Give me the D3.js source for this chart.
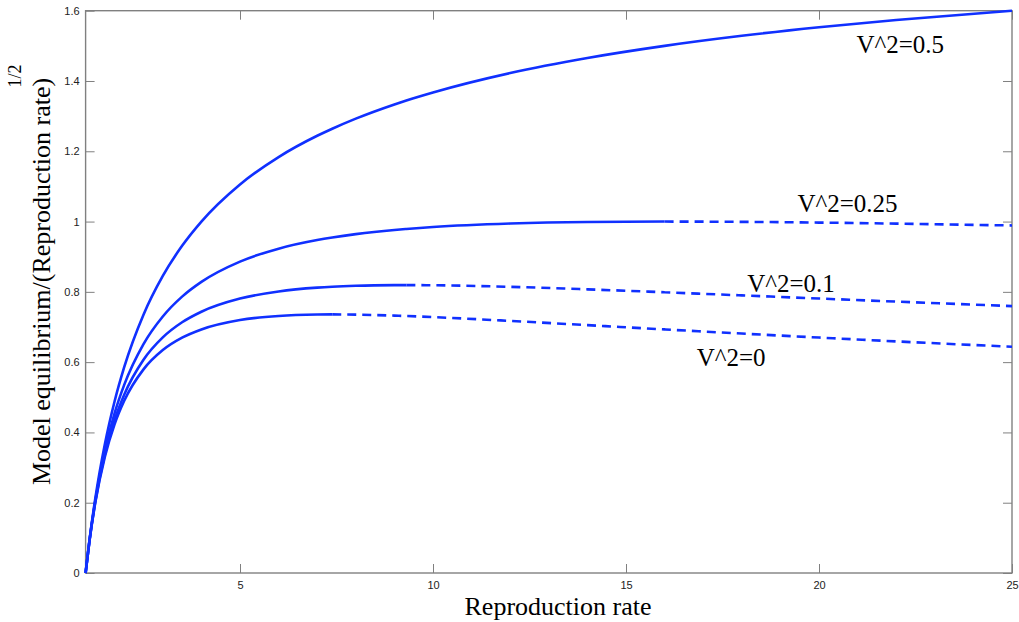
<!DOCTYPE html>
<html>
<head>
<meta charset="utf-8">
<script src="https://cdn.jsdelivr.net/npm/d3@7"></script>
<style>
  body { margin: 0; background: #fff; }
  .tick text { font-family: "Liberation Sans", Arial, sans-serif; font-size: 11px; fill: #222; }
  .tick line { stroke: #808080; stroke-width: 1; }
  .serif { font-family: "Liberation Serif", "Times New Roman", serif; fill: #000; }
</style>
</head>
<body>
<div class="chart"></div>
<script>
// Reproduction rate samples (x)
var rates = [1, 1.1, 1.25, 1.5, 1.75, 2, 2.5, 3, 3.5, 4, 5, 6, 7, 7.39, 8, 9, 9.31, 10, 12, 14, 16, 18, 20, 22, 25];

// equilibrium / sqrt(rate), one array per V^2
var v0   = [0, 0.0909, 0.1996, 0.3311, 0.4230, 0.4901, 0.5795, 0.6343, 0.6696, 0.6931, 0.7198, 0.7315, 0.7355, 0.7358, 0.7352, 0.7324, 0.7312, 0.7281, 0.7173, 0.7053, 0.6931, 0.6813, 0.6699, 0.6590, 0.6438];
var v01  = [0, 0.0913, 0.2018, 0.3379, 0.4351, 0.5075, 0.6069, 0.6704, 0.7134, 0.7435, 0.7809, 0.8011, 0.8119, 0.8145, 0.8172, 0.8191, 0.8192, 0.8188, 0.8143, 0.8071, 0.7988, 0.7899, 0.7810, 0.7722, 0.7594];
var v025 = [0, 0.0920, 0.2053, 0.3484, 0.4541, 0.5352, 0.6513, 0.7299, 0.7864, 0.8284, 0.8861, 0.9228, 0.9473, 0.9546, 0.9642, 0.9761, 0.9790, 0.9845, 0.9944, 0.9989, 1.0000, 0.9992, 0.9971, 0.9941, 0.9889];
var v05  = [0, 0.0931, 0.2111, 0.3670, 0.4881, 0.5858, 0.7351, 0.8453, 0.9310, 1.0000, 1.1056, 1.1835, 1.2441, 1.2642, 1.2929, 1.3333, 1.3446, 1.3675, 1.4227, 1.4655, 1.5000, 1.5286, 1.5528, 1.5736, 1.6000];

// rate where the equilibrium stops being stable (dashed after)
var stableUntil = [7.39, 9.31, 16, 25];
var seriesLabels = ["V^2=0", "V^2=0.1", "V^2=0.25", "V^2=0.5"];

var xTicks = [5, 10, 15, 20, 25];
var yTicks = [0, 0.2, 0.4, 0.6, 0.8, 1, 1.2, 1.4, 1.6];

var svgWidth = 1019;
var svgHeight = 622;
var margin = { top: 10.7, right: 7, bottom: 49, left: 85.6 };
var width = svgWidth - margin.left - margin.right;
var height = svgHeight - margin.top - margin.bottom;

var svg = d3.select(".chart")
  .append("svg")
  .attr("width", svgWidth)
  .attr("height", svgHeight);

var chartGroup = svg.append("g")
  .attr("transform", `translate(${margin.left}, ${margin.top})`);

var xScale = d3.scaleLinear().domain([1, 25]).range([0, width]);
var yScale = d3.scaleLinear().domain([0, 1.6]).range([height, 0]);

// axes with inward ticks
var bottomAxis = d3.axisBottom(xScale).tickValues(xTicks).tickSizeInner(-9).tickSizeOuter(0).tickPadding(8);
var leftAxis = d3.axisLeft(yScale).tickValues(yTicks).tickSizeInner(-9).tickSizeOuter(0).tickPadding(6)
  .tickFormat(d3.format("~g"));
var topAxis = d3.axisTop(xScale).tickValues(xTicks).tickSizeInner(-9).tickSizeOuter(0).tickFormat("");
var rightAxis = d3.axisRight(yScale).tickValues(yTicks).tickSizeInner(-9).tickSizeOuter(0).tickFormat("");

chartGroup.append("g").attr("transform", `translate(0, ${height})`).call(bottomAxis);
chartGroup.append("g").call(leftAxis);
chartGroup.append("g").call(topAxis);
chartGroup.append("g").attr("transform", `translate(${width}, 0)`).call(rightAxis);
chartGroup.selectAll(".domain").remove();

// box
chartGroup.append("rect")
  .attr("x", 0).attr("y", 0)
  .attr("width", width).attr("height", height)
  .attr("fill", "none")
  .attr("stroke", "#808080")
  .attr("stroke-width", 1.4);

var line = d3.line()
  .x(d => xScale(d[0]))
  .y(d => yScale(d[1]))
  .curve(d3.curveMonotoneX);

var allSeries = [v0, v01, v025, v05];
allSeries.forEach(function(vals, i) {
  var pts = rates.map((r, j) => [r, vals[j]]);
  var solid = pts.filter(p => p[0] <= stableUntil[i]);
  var dashed = pts.filter(p => p[0] >= stableUntil[i]);

  chartGroup.append("path")
    .attr("d", line(solid))
    .attr("fill", "none")
    .attr("stroke", "#1030ff")
    .attr("stroke-width", 2.6);

  if (dashed.length > 1) {
    chartGroup.append("path")
      .attr("d", line(dashed))
      .attr("fill", "none")
      .attr("stroke", "#1030ff")
      .attr("stroke-width", 2.6)
      .attr("stroke-dasharray", "9,6");
  }
});

// curve labels
var labelSpots = [[16.83, 0.589], [18.14, 0.80], [19.44, 1.028], [20.97, 1.479]];
chartGroup.selectAll(".curveLabel")
  .data(seriesLabels)
  .enter()
  .append("text")
  .attr("class", "serif curveLabel")
  .attr("x", (d, i) => xScale(labelSpots[i][0]))
  .attr("y", (d, i) => yScale(labelSpots[i][1]))
  .attr("font-size", "25px")
  .text(d => d);

// axis titles
svg.append("text")
  .attr("class", "serif")
  .attr("x", 558)
  .attr("y", 615)
  .attr("text-anchor", "middle")
  .attr("font-size", "26px")
  .text("Reproduction rate");

svg.append("text")
  .attr("class", "serif")
  .attr("transform", "translate(50, 281.5) rotate(-90)")
  .attr("text-anchor", "middle")
  .attr("font-size", "26px")
  .text("Model equilibrium/(Reproduction rate)");

svg.append("text")
  .attr("class", "serif")
  .attr("transform", "translate(21, 76) rotate(-90)")
  .attr("text-anchor", "middle")
  .attr("font-size", "18px")
  .text("1/2");
</script>
</body>
</html>
